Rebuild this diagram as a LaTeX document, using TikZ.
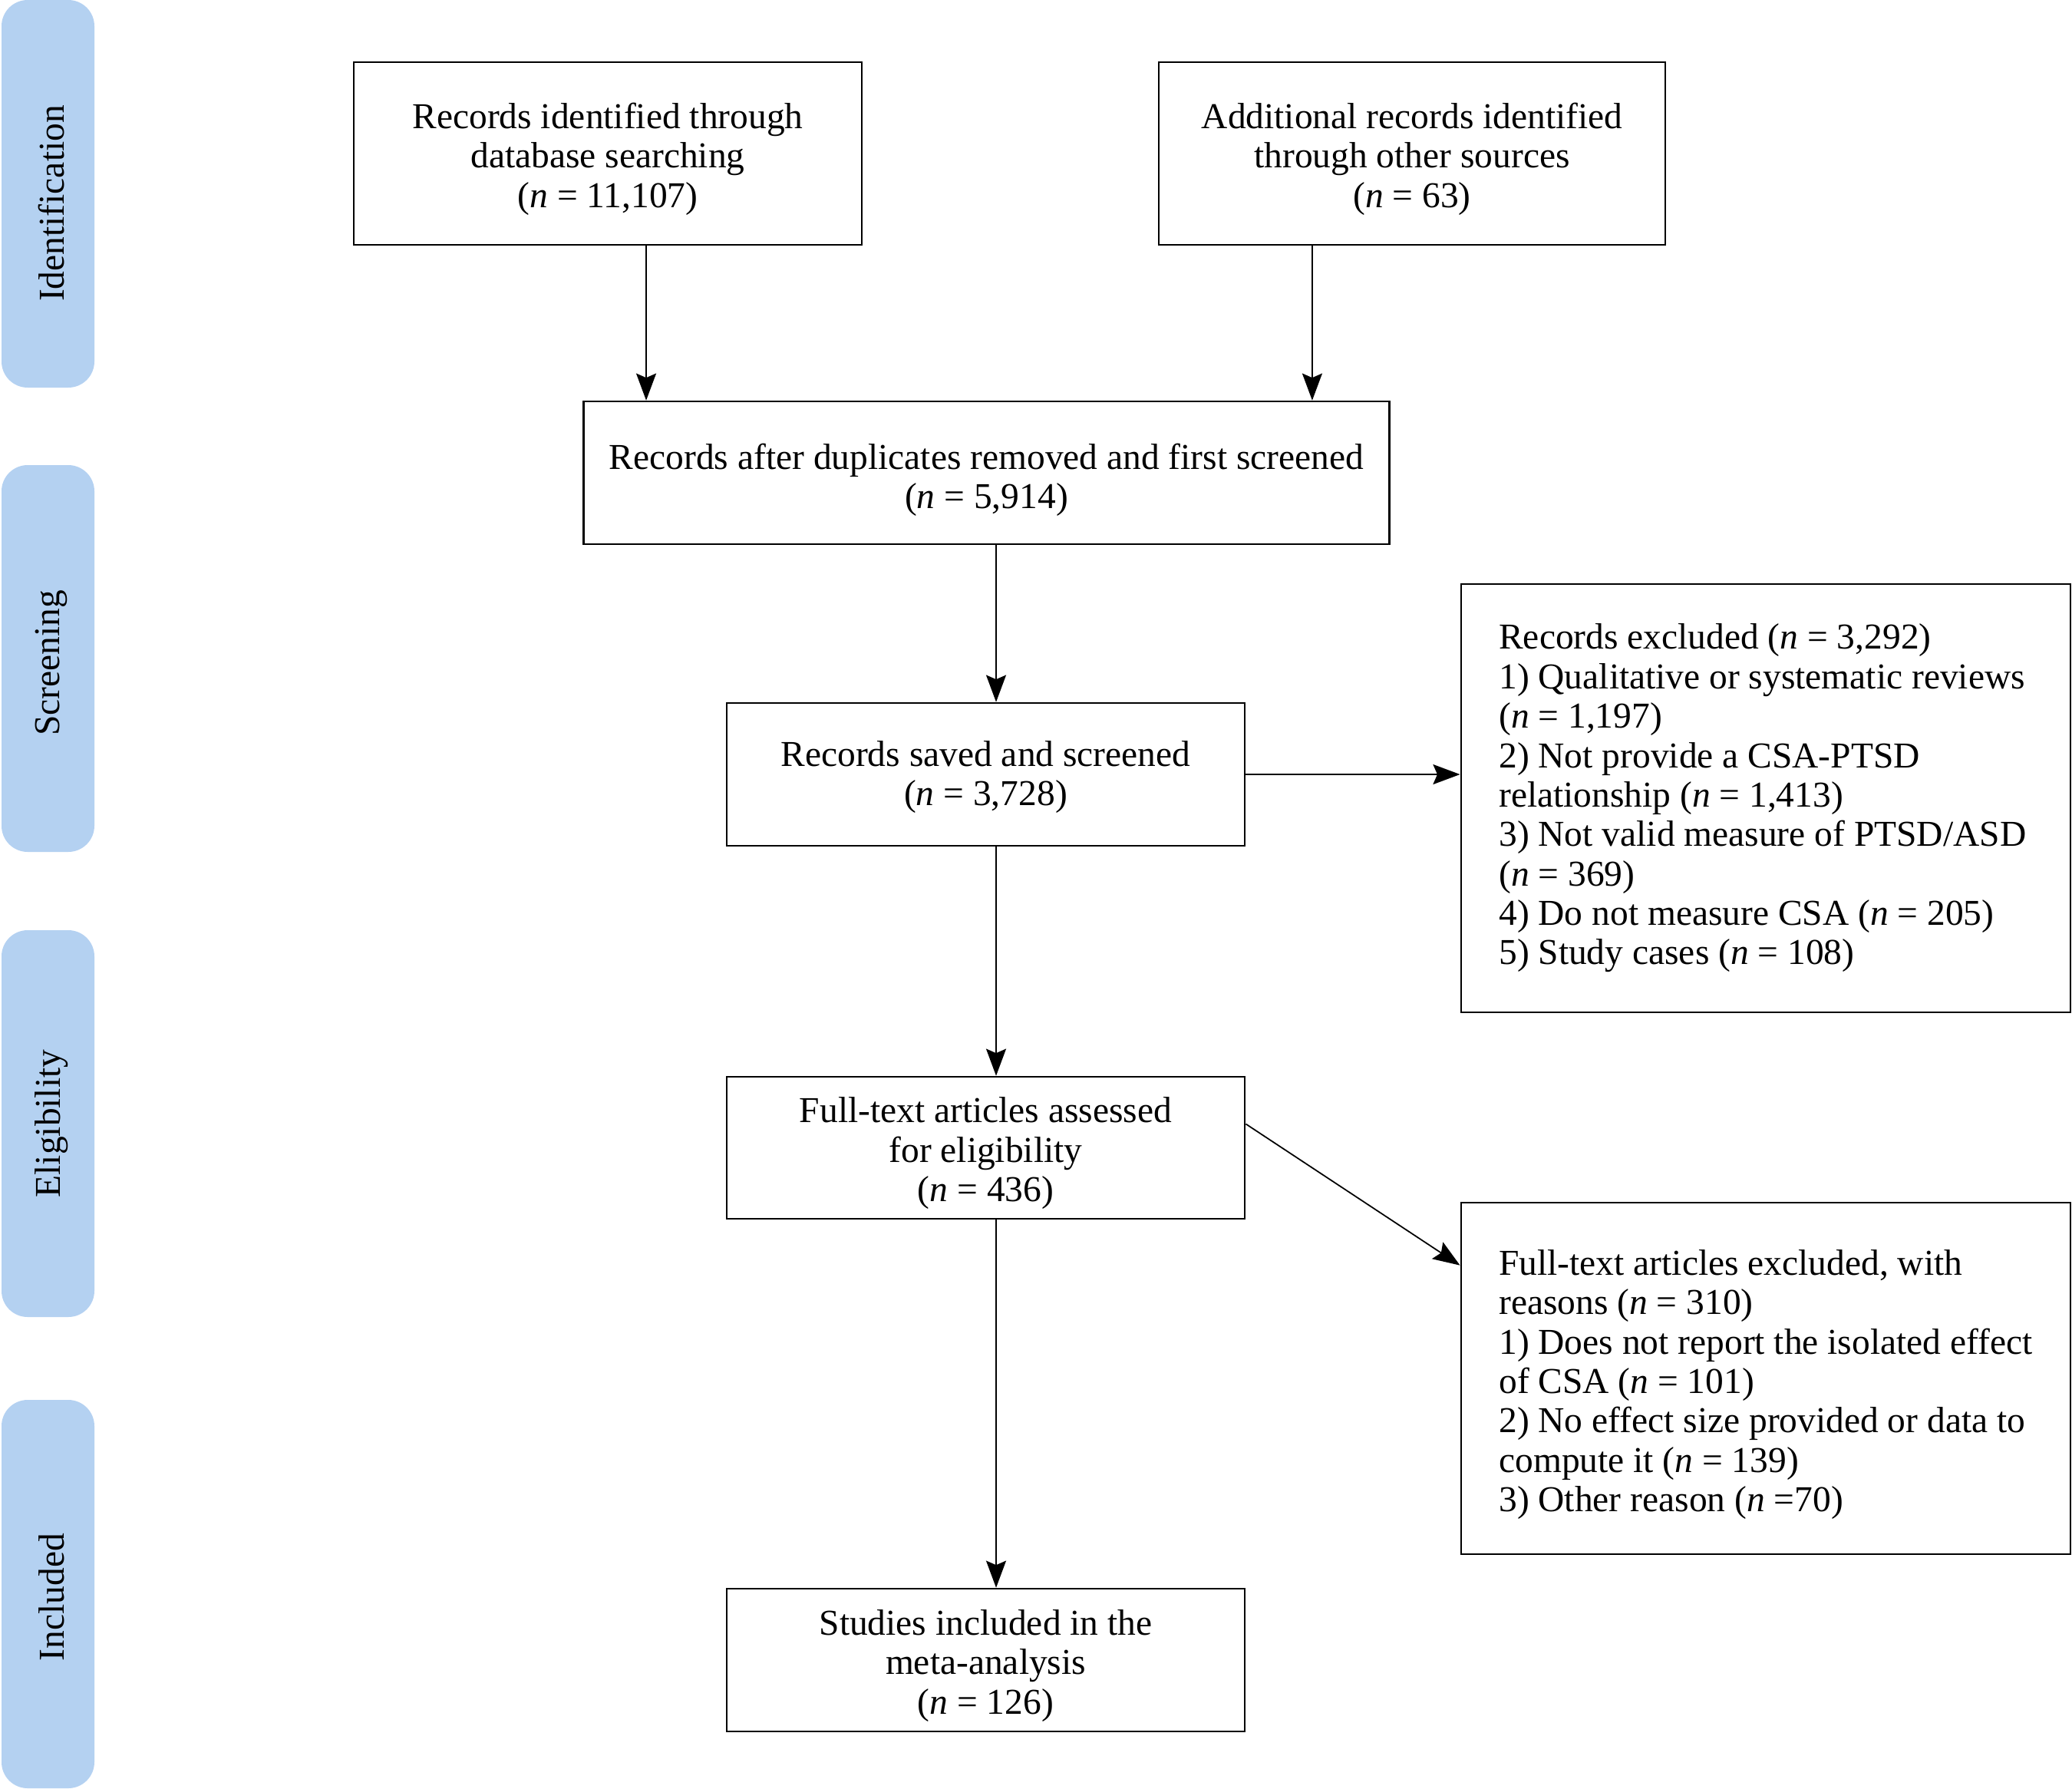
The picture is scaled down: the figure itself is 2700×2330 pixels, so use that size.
\documentclass[tikz,border=0pt]{standalone}
\usepackage{fontspec}
\setmainfont{Liberation Serif}
\usetikzlibrary{arrows.meta}
\definecolor{barblue}{RGB}{180,209,241}
\newcommand\topstrut[1]{\rule{0pt}{#1}}
\begin{document}
\begin{tikzpicture}[x=0.01cm,y=-0.01cm,
  txt/.style={font=\fontsize{13.5}{14.6}\selectfont},
  box/.style={draw, line width=0.7pt, inner sep=0pt, align=center, txt},
  sidebar/.style={fill=barblue, draw=none, rounded corners=0.34cm},
  sidelabel/.style={rotate=90, inner sep=0pt, txt},
  arr/.style={-{Stealth[length=10pt,width=7.4pt,inset=1.6pt]}, line width=0.5pt}]
\useasboundingbox (0,0) rectangle (2700,2330);

% side bars
\path[sidebar] (2,0) rectangle (123,505);
\path[sidebar] (2,606) rectangle (123,1110);
\path[sidebar] (2,1212) rectangle (123,1716);
\path[sidebar] (2,1824) rectangle (123,2330);
\node[sidelabel] (l1) at (67,265) {Identification};
\node[sidelabel] (l2) at (67,864) {Screening};
\node[sidelabel] (l3) at (67,1464) {Eligibility};
\node[sidelabel] (l4) at (67,2081) {Included};

% boxes
\node[box, minimum width=6.62cm, minimum height=2.38cm] (A) at (792,200)
  {\topstrut{13.5pt}Records identified through\\database searching\\(\textit{n} = 11,107)};
\node[box, minimum width=6.60cm, minimum height=2.38cm] (B) at (1840,200)
  {\topstrut{13.5pt}Additional records identified\\through other sources\\(\textit{n} = 63)};
\node[box, minimum width=10.49cm, minimum height=1.86cm] (C) at (1285.5,616)
  {\topstrut{14.8pt}Records after duplicates removed and first screened\\(\textit{n} = 5,914)};
\node[box, minimum width=6.75cm, minimum height=1.86cm] (D) at (1284.5,1009)
  {\topstrut{11.5pt}Records saved and screened\\(\textit{n} = 3,728)};
\node[box, minimum width=7.94cm, minimum height=5.58cm] (E) at (2301,1040) {};
\node[txt, anchor=west, align=left, inner sep=0pt] (Et) at ([xshift=0.5cm]E.west)
  {Records excluded (\textit{n} = 3,292)\\
   1) Qualitative or systematic reviews\\
   (\textit{n} = 1,197)\\
   2) Not provide a CSA-PTSD\\
   relationship (\textit{n} = 1,413)\\
   3) Not valid measure of PTSD/ASD\\
   (\textit{n} = 369)\\
   4) Do not measure CSA (\textit{n} = 205)\\
   5) Study cases (\textit{n} = 108)};
\node[box, minimum width=6.75cm, minimum height=1.85cm] (F) at (1284.5,1495.5)
  {\topstrut{13.5pt}Full-text articles assessed\\for eligibility\\(\textit{n} = 436)};
\node[box, minimum width=7.94cm, minimum height=4.58cm] (G) at (2301,1796) {};
\node[txt, anchor=west, align=left, inner sep=0pt] (Gt) at ([xshift=0.5cm,yshift=-0.08cm]G.west)
  {Full-text articles excluded, with\\
   reasons (\textit{n} = 310)\\
   1) Does not report the isolated effect\\
   of CSA (\textit{n} = 101)\\
   2) No effect size provided or data to\\
   compute it (\textit{n} = 139)\\
   3) Other reason (\textit{n} =70)};
\node[box, minimum width=6.75cm, minimum height=1.86cm] (H) at (1284.5,2163)
  {\topstrut{13.5pt}Studies included in the\\meta-analysis\\(\textit{n} = 126)};

% connectors
\draw[arr] ([xshift=0.5cm]A.south) -- ([xshift=0.5cm]A.south |- C.north);
\draw[arr] ([xshift=-1.3cm]B.south) -- ([xshift=-1.3cm]B.south |- C.north);
\draw[arr] ([xshift=0.125cm]C.south) -- ([xshift=0.125cm]C.south |- D.north);
\draw[arr] (D.east) -- (D.east -| E.west);
\draw[arr] ([xshift=0.135cm]D.south) -- ([xshift=0.135cm]D.south |- F.north);
\draw[arr] ([yshift=0.31cm]F.east) -- ([yshift=-0.83cm]G.north west);
\draw[arr] ([xshift=0.135cm]F.south) -- ([xshift=0.135cm]F.south |- H.north);
\end{tikzpicture}
\end{document}
